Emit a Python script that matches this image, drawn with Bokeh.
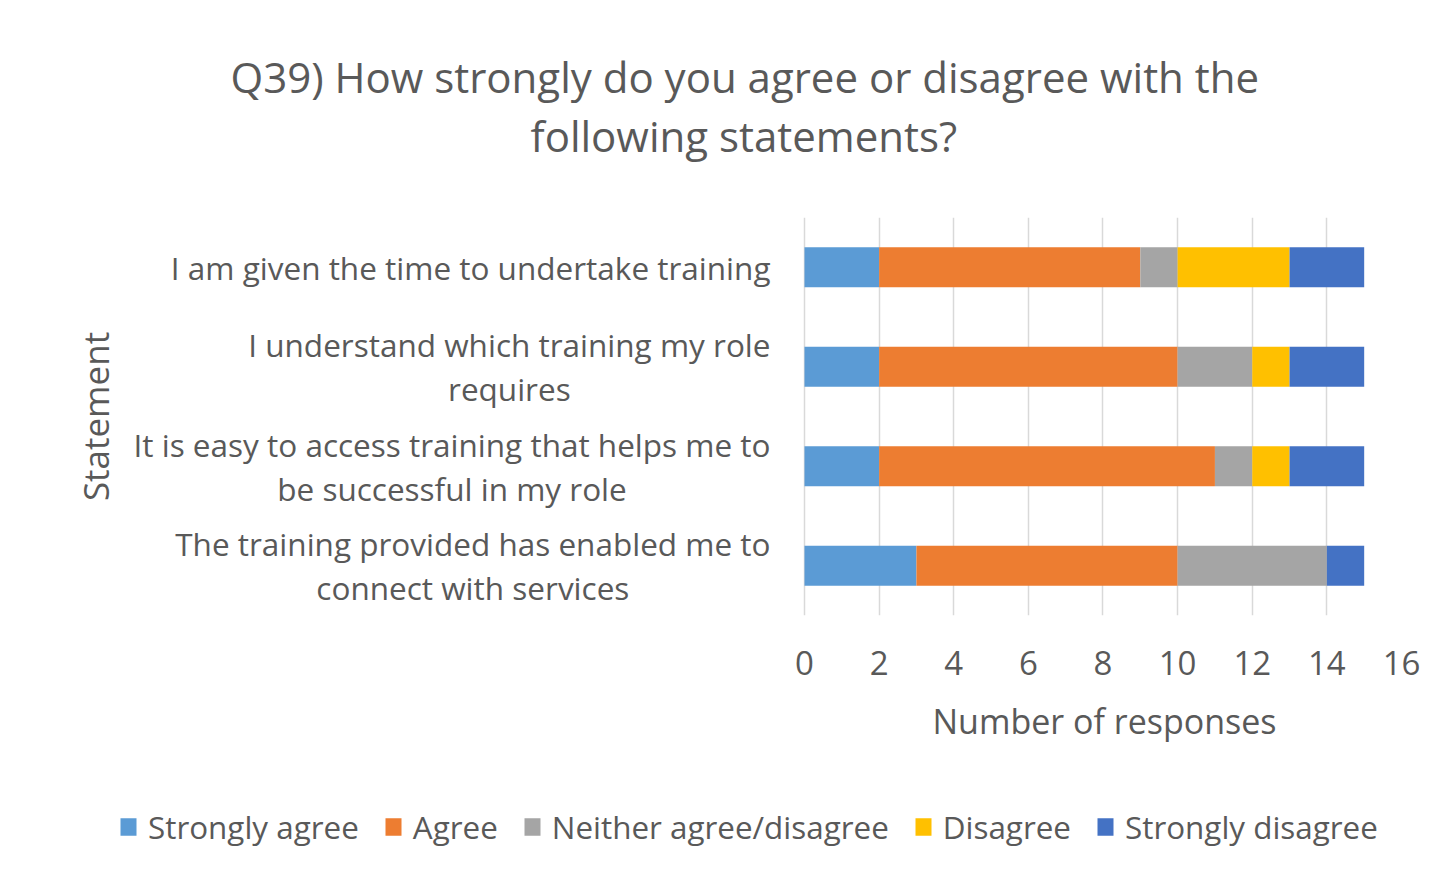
from bokeh.plotting import figure
from bokeh.models import ColumnDataSource, FactorRange, Range1d, FixedTicker, Title
from bokeh.layouts import column
from bokeh.core.properties import value
from bokeh.embed import file_html
from bokeh.resources import INLINE

# ---- data ----
statements = [
    "I am given the time to undertake training",
    "I understand which training my role\nrequires",
    "It is easy to access training that helps me to\nbe successful in my role",
    "The training provided has enabled me to\nconnect with services",
]
responses = ["Strongly agree", "Agree", "Neither agree/disagree", "Disagree", "Strongly disagree"]
strongly_agree = [2, 2, 2, 3]
agree = [7, 8, 9, 7]
neither = [1, 2, 1, 4]
disagree = [3, 1, 1, 0]
strongly_disagree = [2, 2, 2, 1]
x_ticks = [0, 2, 4, 6, 8, 10, 12, 14, 16]
title_lines = ["Q39) How strongly do you agree or disagree with the", "following statements?"]
x_title = "Number of responses"
y_title = "Statement"

# ---- style / layout ----
colors = ["#5B9BD5", "#ED7D31", "#A5A5A5", "#FFC000", "#4472C4"]
FONT = "Open Sans"
TXT = "#595959"
X_MAX = 16
LEFT_PAD = 18.385   # value-axis units of room left of 0 for the category labels

source = ColumnDataSource(dict(
    statement=statements,
    **{responses[0]: strongly_agree,
       responses[1]: agree,
       responses[2]: neither,
       responses[3]: disagree,
       responses[4]: strongly_disagree}))

p = figure(width=1450, height=776, output_backend="svg", toolbar_location=None,
           y_range=FactorRange(factors=statements[::-1]),
           x_range=Range1d(-LEFT_PAD, X_MAX), y_axis_location=None,
           min_border_left=118, min_border_right=49, min_border_top=217, min_border_bottom=161)
p.outline_line_color = None

p.hbar_stack(responses, y="statement", height=0.4, color=colors, line_color=None,
             source=source)

# category labels: block right-aligned next to the value axis, lines centred
p.text(x=0, y="statement", text="statement", source=source,
       anchor=value("center_right"), text_align="center", text_baseline="middle",
       x_offset=-34, text_font=value(FONT), text_font_size=value("31.5px"),
       text_color=TXT, text_line_height=1.03)

# value axis
p.xaxis.ticker = FixedTicker(ticks=x_ticks)
p.xaxis.bounds = (0, X_MAX)
ax = p.xaxis[0]
ax.axis_line_color = None
ax.major_tick_line_color = None
ax.minor_tick_line_color = None
ax.major_tick_out = 0
ax.major_tick_in = 0
ax.major_label_text_font = FONT
ax.major_label_text_color = TXT
ax.major_label_text_font_size = "33px"
ax.major_label_standoff = 35

p.xgrid.grid_line_color = "#D9D9D9"
p.xgrid.grid_line_width = 1.5
p.ygrid.grid_line_color = None

# axis titles
p.add_layout(Title(text=x_title, align="left", offset=814, standoff=36,
                   text_font=FONT, text_font_size="34px", text_color=TXT,
                   text_font_style="normal"), "below")
p.add_layout(Title(text=y_title, align="center", standoff=0,
                   text_font=FONT, text_font_size="35px", text_color=TXT,
                   text_font_style="normal"), "left")

# chart title: spacer nearest the plot, then line 2, then line 1
p.add_layout(Title(text=" ", text_font_size="1px", standoff=51), "above")
p.add_layout(Title(text=title_lines[1], align="left", offset=412, standoff=0,
                   text_font=FONT, text_font_size="42px", text_color=TXT,
                   text_font_style="normal"), "above")
p.add_layout(Title(text=title_lines[0], align="left", offset=112, standoff=0,
                   text_font=FONT, text_font_size="42px", text_color=TXT,
                   text_font_style="normal"), "above")

# legend strip (its frame is aligned with the chart's frame by the column layout)
lf = figure(width=1450, height=100, output_backend="svg", toolbar_location=None,
            x_axis_type=None, y_axis_type=None, min_border=0)
lf.outline_line_color = None
for name, c in zip(responses, colors):
    lf.hbar(y=[0], left=[0], right=[0], height=1, color=c, line_color=None, legend_label=name)
lg = lf.legend[0]
lg.orientation = "horizontal"
lg.location = "center_left"
lg.margin = 0
lg.border_line_color = None
lg.background_fill_alpha = 0
lg.padding = 0
lg.spacing = 24
lg.label_standoff = 10
lg.glyph_width = 20
lg.glyph_height = 22
lg.label_text_font = FONT
lg.label_text_font_size = "31.4px"
lg.label_text_color = TXT

layout = column(p, lf, spacing=0)
open("out.html", "w").write(file_html(layout, INLINE))
